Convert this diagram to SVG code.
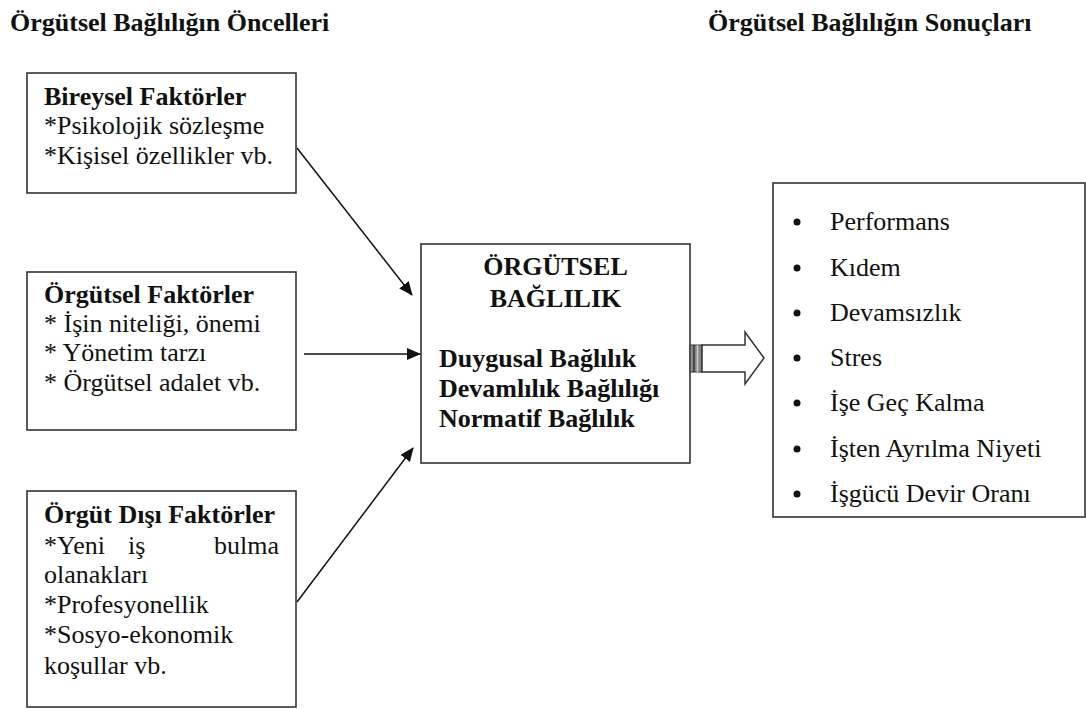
<svg xmlns="http://www.w3.org/2000/svg" width="1086" height="709" viewBox="0 0 1086 709">
<style>
.box{fill:#fff;stroke:#333;stroke-width:1.6}
.t{font-family:"Liberation Serif","Times New Roman",serif;font-size:26px;fill:#111}
.b{font-weight:bold}
.ln{stroke:#111;stroke-width:1.5;fill:none}
</style>
<defs>
<marker id="ah" markerWidth="14" markerHeight="12" refX="13" refY="6" orient="auto" markerUnits="userSpaceOnUse">
<path d="M0,0 L14,6 L0,12 Z" fill="#111"/>
</marker>
</defs>
<rect width="1086" height="709" fill="#fff"/>
<text class="t b" x="10" y="31">Örgütsel Bağlılığın Öncelleri</text>
<text class="t b" x="708" y="31">Örgütsel Bağlılığın Sonuçları</text>

<g id="bireysel">
<rect class="box" x="27" y="73" width="269" height="120"/>
<text class="t b" x="44" y="105">Bireysel Faktörler</text>
<text class="t" x="44" y="134">*Psikolojik sözleşme</text>
<text class="t" x="44" y="164">*Kişisel özellikler vb.</text>
</g>

<g id="orgutsel">
<rect class="box" x="27" y="272" width="269" height="158"/>
<text class="t b" x="44" y="303">Örgütsel Faktörler</text>
<text class="t" x="44" y="332">* İşin niteliği, önemi</text>
<text class="t" x="44" y="361">* Yönetim tarzı</text>
<text class="t" x="44" y="391">* Örgütsel adalet vb.</text>
</g>

<g id="orgutdisi">
<rect class="box" x="27" y="491" width="269" height="216"/>
<text class="t b" x="44" y="523">Örgüt Dışı Faktörler</text>
<text class="t" x="44" y="554">*Yeni</text>
<text class="t" x="128" y="554">iş</text>
<text class="t" x="279" y="554" text-anchor="end">bulma</text>
<text class="t" x="44" y="583">olanakları</text>
<text class="t" x="44" y="613">*Profesyonellik</text>
<text class="t" x="44" y="643">*Sosyo-ekonomik</text>
<text class="t" x="44" y="674">koşullar vb.</text>
</g>

<g id="baglilik">
<rect class="box" x="421" y="244" width="269" height="219"/>
<text class="t b" x="555.5" y="275" text-anchor="middle">ÖRGÜTSEL</text>
<text class="t b" x="555.5" y="307" text-anchor="middle">BAĞLILIK</text>
<text class="t b" x="439" y="367">Duygusal Bağlılık</text>
<text class="t b" x="439" y="397">Devamlılık Bağlılığı</text>
<text class="t b" x="439" y="427">Normatif Bağlılık</text>
</g>

<g id="sonuclar">
<rect class="box" x="773" y="183" width="312" height="334"/>
<g fill="#111">
<circle cx="797" cy="222" r="3.5"/>
<circle cx="797" cy="268" r="3.5"/>
<circle cx="797" cy="313" r="3.5"/>
<circle cx="797" cy="358" r="3.5"/>
<circle cx="797" cy="403" r="3.5"/>
<circle cx="797" cy="449" r="3.5"/>
<circle cx="797" cy="494" r="3.5"/>
</g>
<text class="t" x="830" y="230">Performans</text>
<text class="t" x="830" y="276">Kıdem</text>
<text class="t" x="830" y="321">Devamsızlık</text>
<text class="t" x="830" y="366">Stres</text>
<text class="t" x="830" y="411">İşe Geç Kalma</text>
<text class="t" x="830" y="457">İşten Ayrılma Niyeti</text>
<text class="t" x="830" y="502">İşgücü Devir Oranı</text>
</g>

<g id="connectors">
<line class="ln" x1="297" y1="148" x2="412" y2="295" marker-end="url(#ah)"/>
<line class="ln" x1="304" y1="354" x2="420" y2="354" marker-end="url(#ah)"/>
<line class="ln" x1="297" y1="602" x2="413" y2="448" marker-end="url(#ah)"/>
<g id="blockarrow">
<rect x="690" y="345" width="12" height="27" fill="#888" stroke="#333" stroke-width="1"/>
<line x1="694" y1="345" x2="694" y2="372" stroke="#222" stroke-width="1.2"/>
<line x1="697.5" y1="345" x2="697.5" y2="372" stroke="#ccc" stroke-width="1.5"/>
<polygon points="702,345 745,345 745,332 764,358 745,384 745,372 702,372" fill="#fff" stroke="#333" stroke-width="1.5"/>
</g>
</g>
</svg>
